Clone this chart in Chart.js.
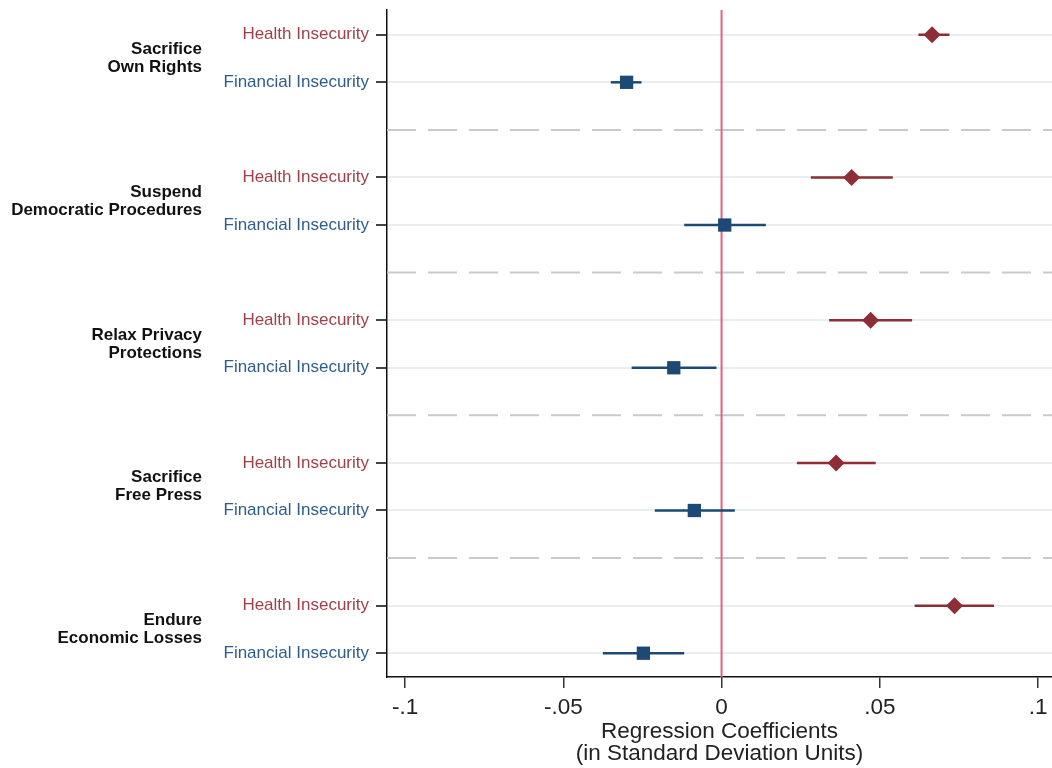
<!DOCTYPE html>
<html>
<head>
<meta charset="utf-8">
<script src="https://cdn.jsdelivr.net/npm/chart.js@4.4.0/dist/chart.umd.min.js"></script>
<style>
  body { margin: 0; background: #fff; }
  #wrap { width: 1052px; height: 768px; position: relative; }
</style>
</head>
<body>
<div id="wrap"><canvas id="myChart"></canvas></div>
<script>
// outcome groups (two-line labels)
var groups = [
  ["Sacrifice", "Own Rights"],
  ["Suspend", "Democratic Procedures"],
  ["Relax Privacy", "Protections"],
  ["Sacrifice", "Free Press"],
  ["Endure", "Economic Losses"]
];
var seriesNames = ["Health Insecurity", "Financial Insecurity"];

// coefficients and 95% CI
var healthCoef = [0.0665, 0.0411, 0.0471, 0.0362, 0.0736];
var healthLo   = [0.0622, 0.0282, 0.0340, 0.0238, 0.0610];
var healthHi   = [0.0720, 0.0541, 0.0602, 0.0487, 0.0861];
var finCoef = [-0.0300, 0.0010, -0.0151, -0.0086, -0.0247];
var finLo   = [-0.0350, -0.0118, -0.0284, -0.0211, -0.0375];
var finHi   = [-0.0253, 0.0140, -0.0016, 0.0042, -0.0118];

var xTicks = [-0.1, -0.05, 0, 0.05, 0.1];
var xTickLabels = ["-.1", "-.05", "0", ".05", ".1"];

var healthColor = "#8d2d36";
var finColor = "#1c4a74";
var healthText = "#a0404a";
var finText = "#2f5d8a";
var font = "'Liberation Sans', Arial, sans-serif";

var xMin = -0.1057, xMax = 0.1044;
var yMin = -0.52, yMax = 13.5;

// row positions: 3 slots per group (health, financial, gap)
var healthRow = groups.map(function(g, i){ return i * 3; });
var finRow = groups.map(function(g, i){ return i * 3 + 1; });
var sepRow = [2, 5, 8, 11];
var allRows = healthRow.concat(finRow).sort(function(a, b){ return a - b; });

var datasets = [];

// confidence interval lines
for (var i = 0; i < groups.length; i++) {
  datasets.push({
    data: [{x: healthLo[i], y: healthRow[i]}, {x: healthHi[i], y: healthRow[i]}],
    showLine: true, borderColor: healthColor, borderWidth: 2.5, pointRadius: 0, order: 2
  });
  datasets.push({
    data: [{x: finLo[i], y: finRow[i]}, {x: finHi[i], y: finRow[i]}],
    showLine: true, borderColor: finColor, borderWidth: 2.5, pointRadius: 0, order: 2
  });
}

// dashed separators between groups
sepRow.forEach(function(r){
  datasets.push({
    data: [{x: xMin, y: r}, {x: xMax, y: r}],
    showLine: true, borderColor: "#c9c9c9", borderWidth: 2, borderDash: [29, 12],
    pointRadius: 0, order: 4
  });
});

// zero reference line
datasets.push({
  data: [{x: 0, y: yMin}, {x: 0, y: yMax}],
  showLine: true, borderColor: "#e3637f", borderWidth: 2, pointRadius: 0, order: 3
});

// point estimates
datasets.push({
  label: seriesNames[0],
  data: healthCoef.map(function(v, i){ return {x: v, y: healthRow[i]}; }),
  pointStyle: "rectRot", pointRadius: 8.5, backgroundColor: healthColor,
  borderColor: healthColor, borderWidth: 0, order: 0
});
datasets.push({
  label: seriesNames[1],
  data: finCoef.map(function(v, i){ return {x: v, y: finRow[i]}; }),
  pointStyle: "rect", pointRadius: 9.4, backgroundColor: finColor,
  borderColor: finColor, borderWidth: 0, order: 0
});

// bold group labels on the far left
var groupLabels = {
  id: "groupLabels",
  afterDraw: function(chart) {
    var ctx = chart.ctx;
    var ys = chart.scales.y;
    ctx.save();
    ctx.font = "bold 17px " + font;
    ctx.fillStyle = "#111";
    ctx.textAlign = "right";
    ctx.textBaseline = "middle";
    groups.forEach(function(lines, i){
      var mid = (ys.getPixelForValue(healthRow[i]) + ys.getPixelForValue(finRow[i])) / 2;
      var lh = 18;
      var top = mid - lh * (lines.length - 1) / 2;
      lines.forEach(function(t, k){
        ctx.fillText(t, 202, top + k * lh);
      });
    });
    ctx.restore();
  }
};

var ctx = document.getElementById("myChart");
var myChart = new Chart(ctx, {
  type: "scatter",
  data: { datasets: datasets },
  plugins: [groupLabels],
  options: {
    responsive: true,
    maintainAspectRatio: false,
    animation: false,
    layout: { autoPadding: false, padding: { top: 10, right: 0, left: 0, bottom: 0 } },
    plugins: { legend: { display: false }, tooltip: { enabled: false } },
    scales: {
      x: {
        type: "linear",
        min: xMin, max: xMax,
        afterBuildTicks: function(scale){
          scale.ticks = xTicks.map(function(v){ return {value: v}; });
        },
        afterFit: function(scale){
          scale.height = 91;
          scale.paddingLeft = 0;
          scale.paddingRight = 0;
        },
        ticks: {
          autoSkip: false,
          maxRotation: 0,
          padding: 6,
          color: "#222",
          font: { family: font, size: 22.5 },
          callback: function(v){
            var k = xTicks.indexOf(v);
            return k >= 0 ? xTickLabels[k] : "";
          }
        },
        grid: {
          drawOnChartArea: false,
          tickColor: "#333",
          tickLength: 11,
          lineWidth: 1.5
        },
        border: { display: true, color: "#111", width: 1.5 },
        title: {
          display: true,
          text: ["Regression Coefficients", "(in Standard Deviation Units)"],
          color: "#222",
          font: { family: font, size: 22.5, lineHeight: 0.94 },
          padding: { top: 0, bottom: 4 }
        }
      },
      y: {
        type: "linear",
        reverse: true,
        min: yMin, max: yMax,
        afterBuildTicks: function(scale){
          scale.ticks = allRows.map(function(v){ return {value: v}; });
        },
        afterFit: function(scale){
          scale.width = 387;
          scale.paddingTop = 0;
          scale.paddingBottom = 0;
        },
        ticks: {
          autoSkip: false,
          padding: 7,
          font: { family: font, size: 17 },
          color: function(c){ return c.tick.value % 3 === 0 ? healthText : finText; },
          callback: function(v){ return v % 3 === 0 ? seriesNames[0] : seriesNames[1]; }
        },
        grid: {
          color: "#e8eef2",
          lineWidth: 2,
          tickColor: "#444",
          tickLength: 11
        },
        border: { display: true, color: "#111", width: 1.5 }
      }
    }
  }
});
</script>
</body>
</html>
